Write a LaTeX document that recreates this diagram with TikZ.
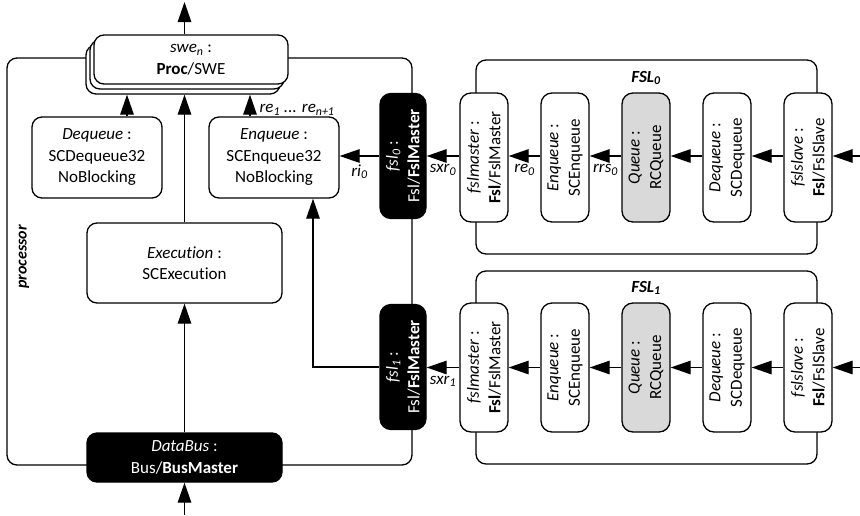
\documentclass[tikz,border=0pt]{standalone}
\usepackage{fontspec}
\setmainfont{Carlito}[Ligatures={NoCommon,NoContextual}]
\usetikzlibrary{arrows.meta}
\definecolor{queuegray}{HTML}{D9D9D9}
\begin{document}
\begin{tikzpicture}[x=1pt,y=-1pt,
  every node/.style={font=\fontsize{17}{21.5}\selectfont, align=center, inner sep=0pt, line width=1.3pt},
  part/.style={draw, fill=white, rounded corners=10pt},
  dark/.style={draw, fill=black, text=white, rounded corners=10pt},
  vpart/.style={part, rotate=90, minimum width=129pt, minimum height=48pt, rounded corners=11pt},
  vdark/.style={dark, rotate=90, minimum width=125pt, minimum height=46pt, rounded corners=11pt},
  frame/.style={draw, rounded corners=10pt, line width=1.3pt},
  arr/.style={-{Triangle[length=20pt,width=13.5pt]}, line width=1.3pt},
  lbl/.style={font=\fontsize{17}{21}\selectfont\itshape},
  ttl/.style={font=\fontsize{17}{21}\selectfont\bfseries\itshape}]
\path[use as bounding box] (0,0) rectangle (860,515);

% processor frame and FSL frames
\draw[frame] (7,58) rectangle (412,465);
\node[ttl, rotate=90, font=\fontsize{16}{20}\selectfont\bfseries\itshape] (proclbl) at (24,257) {processor};
\draw[frame] (476,60) rectangle (817,254);
\draw[frame] (476,271) rectangle (817,464);
\node[ttl] (fsl0t) at (646,78) {FSL\textsubscript{0}};
\node[ttl] (fsl1t) at (646,288) {FSL\textsubscript{1}};

% software element (stacked)
\node[part, minimum width=194pt, minimum height=49pt] (swe2) at (183,69.5) {};
\node[part, minimum width=194pt, minimum height=49pt] (swe1) at (187,64.5) {};
\node[part, minimum width=194pt, minimum height=49pt] (swe) at (191,59.5)
  {\textit{swe\textsubscript{n}} :\\\textbf{Proc}/SWE};

% processor internals
\node[part, minimum width=130pt, minimum height=81pt] (deq) at (97,157.5)
  {\textit{Dequeue} :\\SCDequeue32\\NoBlocking};
\node[part, minimum width=130pt, minimum height=81pt] (enq) at (274,157.5)
  {\textit{Enqueue} :\\SCEnqueue32\\NoBlocking};
\node[part, minimum width=195pt, minimum height=80pt] (exec) at (184.5,263)
  {\textit{Execution} :\\SCExecution};
\node[dark, minimum width=195pt, minimum height=49pt] (bus) at (184.5,457.5)
  {\textit{DataBus} :\\Bus/\textbf{BusMaster}};
\node[vdark] (fsl0) at (403,156) {\textit{fsl\textsubscript{0}} :\\Fsl/\textbf{FslMaster}};
\node[vdark] (fsl1) at (403,367) {\textit{fsl\textsubscript{1}} :\\Fsl/\textbf{FslMaster}};

% FSL channel 0
\node[vpart] (mas0) at (484,157.5) {\textit{fslmaster} :\\\textbf{Fsl}/FslMaster};
\node[vpart] (enq0) at (565,157.5) {\textit{Enqueue} :\\SCEnqueue};
\node[vpart, fill=queuegray] (que0) at (646,157.5) {\textit{Queue} :\\RCQueue};
\node[vpart] (deq0) at (727,157.5) {\textit{Dequeue} :\\SCDequeue};
\node[vpart] (sla0) at (808,157.5) {\textit{fslslave} :\\\textbf{Fsl}/FslSlave};

% FSL channel 1
\node[vpart] (mas1) at (484,367.5) {\textit{fslmaster} :\\\textbf{Fsl}/FslMaster};
\node[vpart] (enq1) at (565,367.5) {\textit{Enqueue} :\\SCEnqueue};
\node[vpart, fill=queuegray] (que1) at (646,367.5) {\textit{Queue} :\\RCQueue};
\node[vpart] (deq1) at (727,367.5) {\textit{Dequeue} :\\SCDequeue};
\node[vpart] (sla1) at (808,367.5) {\textit{fslslave} :\\\textbf{Fsl}/FslSlave};

% free ends
\coordinate (top) at (184.5,2);
\coordinate (bottom) at (184.5,515);
\coordinate (in0) at (860,156);
\coordinate (in1) at (860,367.5);

% connectors inside the processor
\draw[arr] (exec |- swe.north) -- (top);
\draw[arr] (bottom) -- (bus);
\draw[arr] (bus) -- (exec);
\draw[arr] (exec) -- (exec |- swe2.south);
\draw[arr] ([xshift=30pt]deq.north) -- ([xshift=30pt]deq.north |- swe2.south);
\draw[arr] ([xshift=-24pt]enq.north) -- ([xshift=-24pt]enq.north |- swe2.south)
  node[lbl, pos=0.3, right=9pt] {re\textsubscript{1} ... re\textsubscript{n+1}};
\draw[arr] (fsl0.north) -- (fsl0.north -| enq.east) node[lbl, midway, below=8pt] {ri\textsubscript{0}};
\draw[arr] (fsl1.north) -| ([xshift=39pt]enq.south);

% FSL channel 0 connectors
\draw[arr] (in0) -- (in0 -| sla0.south);
\draw[arr] (sla0.north |- in0) -- (in0 -| deq0.south);
\draw[arr] (deq0.north |- in0) -- (in0 -| que0.south);
\draw[arr] (que0.north |- in0) -- (in0 -| enq0.south) node[lbl, midway, below=8pt] {rrs\textsubscript{0}};
\draw[arr] (enq0.north |- in0) -- (in0 -| mas0.south) node[lbl, midway, below=8pt] {re\textsubscript{0}};
\draw[arr] (mas0.north |- in0) -- (fsl0.south) node[lbl, midway, below=8pt] {sxr\textsubscript{0}};

% FSL channel 1 connectors
\draw[arr] (in1) -- (sla1.south);
\draw[arr] (sla1.north) -- (deq1.south);
\draw[arr] (deq1.north) -- (que1.south);
\draw[arr] (que1.north) -- (enq1.south);
\draw[arr] (enq1.north) -- (mas1.south);
\draw[arr] (mas1.north) -- (mas1.north -| fsl1.south) node[lbl, midway, below=8pt] {sxr\textsubscript{1}};
\end{tikzpicture}
\end{document}
